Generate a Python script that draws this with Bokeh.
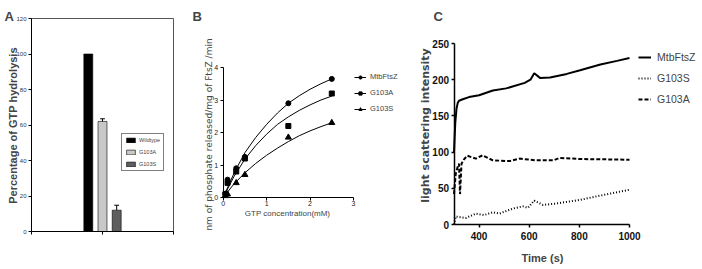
import math
from bokeh.plotting import figure
from bokeh.layouts import row
from bokeh.models import Legend, LegendItem, Label, FixedTicker, ColumnDataSource
from bokeh.embed import file_html
from bokeh.resources import INLINE

# ---------------- Panel A data ----------------
a_categories = ["Wildtype", "G103A", "G103S"]
a_values = [100, 62, 12]
a_errors = [0, 1.5, 2.8]
a_colors = ["#000000", "#c8c8c8", "#5e5e5e"]
a_yticks = [0, 20, 40, 60, 80, 100, 120]

# ---------------- Panel B data ----------------
b_conc = [0.05, 0.1, 0.3, 0.5, 1.5, 2.5]
b_mtb = [0.12, 0.55, 0.9, 1.25, 2.9, 3.65]
b_g103a = [0.1, 0.45, 0.8, 1.2, 2.2, 3.2]
b_g103s = [0.05, 0.1, 0.45, 0.7, 1.85, 2.3]
b_fit_x = [0, 0.25, 0.5, 0.75, 1.0, 1.25, 1.5, 1.75, 2.0, 2.25, 2.5]
b_fit_mtb = [0, 0.75, 1.38, 1.85, 2.25, 2.6, 2.9, 3.13, 3.33, 3.5, 3.65]
b_fit_g103a = [0, 0.65, 1.18, 1.6, 1.95, 2.25, 2.48, 2.68, 2.85, 3.0, 3.12]
b_fit_g103s = [0, 0.42, 0.76, 1.05, 1.3, 1.52, 1.72, 1.9, 2.05, 2.18, 2.3]
b_xticks = [0, 1, 2, 3]
b_yticks = [0, 1, 2, 3, 4]

# ---------------- Panel C data ----------------
c_mtb_t = [300, 305, 310, 315, 320, 335, 360, 400, 455, 508, 582, 605, 620, 643, 683, 750, 803, 884, 950, 1000]
c_mtb_v = [100, 140, 160, 168, 171, 173, 176, 178.5, 185, 188, 195.6, 200, 209, 202.5, 203, 208, 213, 221, 226, 230]
c_g103a_t = [300, 307, 315, 320, 324, 330, 340, 353, 370, 387, 414, 455, 522, 562, 629, 696, 722, 803, 900, 1000]
c_g103a_v = [42, 70, 80, 84, 42, 84, 90, 95, 93, 91, 95.5, 88.6, 87.6, 91, 88.6, 88.6, 92, 90.4, 90, 89.5]
c_g103s_t = [300, 307, 347, 387, 420, 455, 481, 534, 575, 595, 620, 655, 708, 803, 884, 1000]
c_g103s_v = [0, 11, 9, 15, 13, 17, 15, 22, 25, 23, 33, 27, 29, 34, 40, 48]
c_xticks = [400, 600, 800, 1000]
c_yticks = [0, 50, 100, 150, 200, 250]

FONT = "Liberation Sans"
H = 269


class Geo:
    """Pixel placement of a panel's axes: data x0..x1 on px0..px1, y0..y1 on py0..py1 (from top)."""

    def __init__(self, width, x0, x1, px0, px1, y0, y1, py0, py1):
        self.width, self.x0, self.x1, self.px0, self.px1 = width, x0, x1, px0, px1
        self.y0, self.y1, self.py0, self.py1 = y0, y1, py0, py1
        self.sx = (px1 - px0) / (x1 - x0)
        self.sy = (py0 - py1) / (y1 - y0)

    def ranges(self):
        xr = (self.x0 - self.px0 / self.sx, self.x1 + (self.width - self.px1) / self.sx)
        yr = (self.y0 - (H - self.py0) / self.sy, self.y1 + self.py1 / self.sy)
        return xr, yr

    def px(self, v):
        return self.px0 + (v - self.x0) * self.sx

    def up(self, v):  # screen y measured from the bottom
        return H - (self.py0 - (v - self.y0) * self.sy)


def base_fig(g):
    xr, yr = g.ranges()
    p = figure(width=g.width, height=H, x_range=xr, y_range=yr,
               output_backend="svg", toolbar_location=None,
               min_border_left=0, min_border_right=0, min_border_top=0, min_border_bottom=0)
    p.grid.visible = False
    p.outline_line_color = None
    return p


def style_axes(p, g, xticks, yticks, width=1):
    p.xaxis.bounds = (g.x0, g.x1)
    p.yaxis.bounds = (g.y0, g.y1)
    p.xaxis.fixed_location = g.y0
    p.yaxis.fixed_location = g.x0
    p.xaxis.ticker = FixedTicker(ticks=xticks)
    p.yaxis.ticker = FixedTicker(ticks=yticks)
    p.xaxis.major_label_overrides = {t: "" for t in xticks}
    p.yaxis.major_label_overrides = {t: "" for t in yticks}
    for ax in (p.xaxis, p.yaxis):
        ax.axis_line_color = "black"
        ax.axis_line_width = width
        ax.major_tick_line_color = "black"
        ax.major_tick_line_width = width
        ax.minor_tick_line_color = None
        ax.major_tick_out = 3
        ax.major_tick_in = 0


def tick_labels(p, g, xticks, yticks, size, style="normal", color="#222222", xgap=5, ygap=3):
    common = dict(x_units="screen", y_units="screen", text_font=FONT, text_font_size=size,
                  text_font_style=style, text_color=color)
    for t in yticks:
        p.add_layout(Label(x=g.px(g.x0) - xgap, y=g.up(t), text=str(t), text_align="right",
                           text_baseline="middle", **common))
    for t in xticks:
        p.add_layout(Label(x=g.px(t), y=g.up(g.y0) - ygap, text=str(t), text_align="center",
                           text_baseline="top", **common))


def title(p, x, y, text, size, font=FONT, style="normal", vertical=False):
    p.add_layout(Label(x=x, y=H - y, x_units="screen", y_units="screen", text=text,
                       text_font=font, text_font_style=style, text_font_size=size,
                       text_align="center", text_baseline="middle",
                       angle=math.pi / 2 if vertical else 0))


def letter(p, x, text):
    p.add_layout(Label(x=x, y=H - 16, x_units="screen", y_units="screen", text=text,
                       text_font=FONT, text_font_style="bold", text_font_size="13px",
                       text_baseline="alphabetic"))


# =============== Panel A ===============
ga = Geo(190, 0, 1, 31, 173, 0, 120, 231, 18)
pa = base_fig(ga)
pa.quad(left=0, right=1, bottom=0, top=a_yticks[-1], fill_color=None, line_color="#555555", line_width=1)
a_x = [0.5 + (i - 1) * 0.1 for i in range(len(a_categories))]
src_a = ColumnDataSource(dict(x=a_x, top=a_values, cat=a_categories, color=a_colors))
bars = pa.vbar(x="x", top="top", width=0.063, fill_color="color", line_color="black",
               line_width=0.6, source=src_a)
ex = a_x[1:]
eb = a_values[1:]
eu = [v + e for v, e in zip(a_values[1:], a_errors[1:])]
pa.segment(x0=ex, y0=eb, x1=ex, y1=eu, line_color="black", line_width=1)
pa.segment(x0=[x - 0.017 for x in ex], y0=eu, x1=[x + 0.017 for x in ex], y1=eu,
           line_color="black", line_width=1)
legA = Legend(items=[LegendItem(label=c, renderers=[bars], index=i) for i, c in enumerate(a_categories)],
              location=(121, 98), border_line_color="black", border_line_width=1,
              background_fill_color="white", label_text_font=FONT, label_text_font_size="5.5px",
              glyph_width=11, glyph_height=6, label_standoff=3, padding=3, spacing=6, margin=0,
              label_height=6)
pa.add_layout(legA)
style_axes(pa, ga, [0, 0.5, 1], a_yticks)
tick_labels(pa, ga, [], a_yticks, "6px", color="#333333")
title(pa, 12.5, 125, "Percentage of GTP hydrolysis", "11px", style="bold", vertical=True)
letter(pa, 4, "A")

# =============== Panel B ===============
gb = Geo(215, 0, 3, 32.7, 163, 0, 4, 197, 67)
pb = base_fig(gb)
l1 = pb.line(b_fit_x, b_fit_mtb, line_color="black", line_width=1)
l2 = pb.line(b_fit_x, b_fit_g103a, line_color="black", line_width=1)
l3 = pb.line(b_fit_x, b_fit_g103s, line_color="black", line_width=1)
s1 = pb.scatter(b_conc, b_mtb, marker="circle", size=5, fill_color="black", line_color="black")
s2 = pb.scatter(b_conc, b_g103a, marker="square", size=5, fill_color="black", line_color="black")
s3 = pb.scatter(b_conc, b_g103s, marker="triangle", size=6, fill_color="black", line_color="black")
legB = Legend(items=[LegendItem(label="MtbFtsZ", renderers=[l1, s1]),
                     LegendItem(label="G103A", renderers=[l2, s2]),
                     LegendItem(label="G103S", renderers=[l3, s3])],
              location=(164, 156), border_line_color=None, background_fill_alpha=0,
              label_text_font=FONT, label_text_font_size="7.5px", glyph_width=12, glyph_height=8,
              label_standoff=4, padding=2, spacing=7, margin=0, label_height=8)
pb.add_layout(legB)
style_axes(pb, gb, b_xticks, b_yticks)
tick_labels(pb, gb, b_xticks, b_yticks, "7px", ygap=3)
title(pb, 97, 213, "GTP concentration(mM)", "8px")
title(pb, 18, 134, "nm of phosphate released/mg of FtsZ /min", "9px", font="DejaVu Sans", vertical=True)
letter(pb, 2, "B")

# =============== Panel C ===============
gc = Geo(297, 300, 1000, 48.5, 224, 0, 250, 224, 43)
pc = base_fig(gc)
c1 = pc.line(c_mtb_t, c_mtb_v, line_color="black", line_width=2)
c2 = pc.line(c_g103s_t, c_g103s_v, line_color="black", line_width=2, line_dash="1 2")
c3 = pc.line(c_g103a_t, c_g103a_v, line_color="black", line_width=2, line_dash="4 2")
legC = Legend(items=[LegendItem(label="MtbFtsZ", renderers=[c1]),
                     LegendItem(label="G103S", renderers=[c2]),
                     LegendItem(label="G103A", renderers=[c3])],
              location=(233, 164), border_line_color=None, background_fill_alpha=0,
              label_text_font=FONT, label_text_font_size="10.5px", glyph_width=13, glyph_height=12,
              label_standoff=6, padding=2, spacing=9, margin=0, label_height=12)
pc.add_layout(legC)
style_axes(pc, gc, c_xticks, c_yticks, width=1.5)
tick_labels(pc, gc, c_xticks, c_yticks, "10px", style="bold", color="#111111", ygap=7)
title(pc, 137, 257, "Time (s)", "11px", style="bold")
title(pc, 20, 125, "light scattering intensity", "11px", font="DejaVu Sans", style="bold", vertical=True)
letter(pc, 28, "C")

layout = row(pa, pb, pc, spacing=0)
open("out.html", "w").write(file_html(layout, INLINE))
